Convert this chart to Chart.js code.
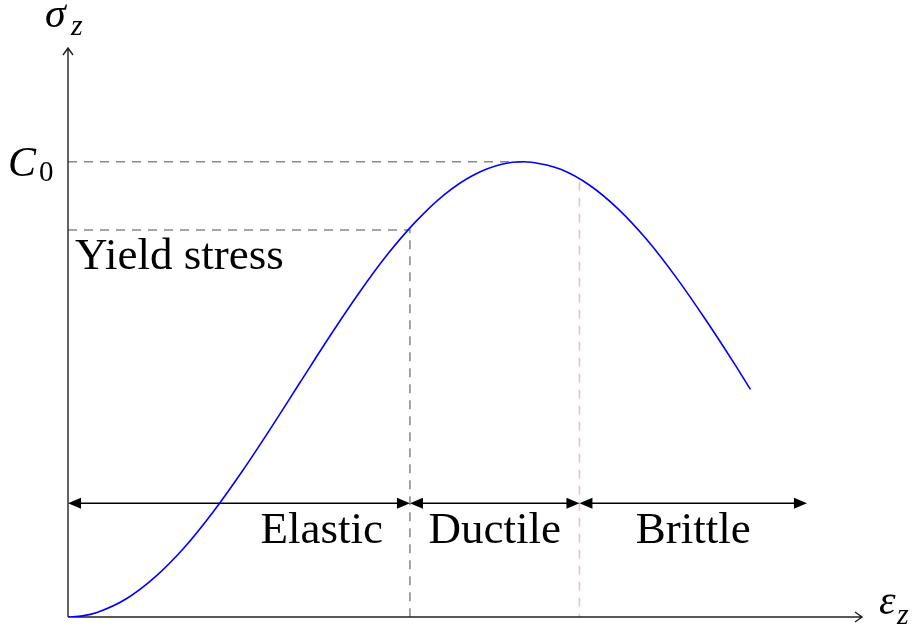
<!DOCTYPE html>
<html>
<head>
<meta charset="utf-8">
<script src="https://cdn.jsdelivr.net/npm/chart.js@4"></script>
<style>
  body { margin: 0; background: #fff; }
  canvas { display: block; }
</style>
</head>
<body>
<canvas id="mychart" width="918" height="632"></canvas>
<script>
// stress-strain curve, strain on x, stress on y
const strain = [0, 0.1, 0.2, 0.4, 0.6, 0.8, 1.0, 1.2, 1.4, 1.6, 1.8, 2.0, 2.2, 2.4, 2.6, 2.8, 3.0, 3.14, 3.2, 3.4, 3.6, 3.8, 4.0, 4.2, 4.4, 4.6, 4.71];
const stress = [0, 0.005, 0.02, 0.079, 0.175, 0.303, 0.46, 0.638, 0.83, 1.029, 1.227, 1.416, 1.589, 1.737, 1.857, 1.942, 1.99, 2.0, 1.998, 1.967, 1.897, 1.791, 1.654, 1.49, 1.307, 1.112, 1.0];

const peakStrain = 3.14, peakStress = 2.0;     // C0
const yieldStrain = 2.36, yieldStress = 1.70;
const breakStrain = 3.53, breakStress = 1.93;

const zoneEdges = [0, 2.36, 3.53, 5.1];
const zoneNames = ['Elastic', 'Ductile', 'Brittle'];
const zoneLevel = 0.5;

const xMax = 5.48, yMax = 2.5;

const serif = '"Liberation Serif", "DejaVu Serif", serif';

function arrowHead(ctx, x, y, dir) {
  // filled latex style head, dir = 1 points right, -1 points left
  ctx.beginPath();
  ctx.moveTo(x, y);
  ctx.lineTo(x - dir * 13, y - 5.5);
  ctx.lineTo(x - dir * 13, y + 5.5);
  ctx.closePath();
  ctx.fill();
}

const diagram = {
  id: 'diagram',
  beforeDatasetsDraw(chart) {
    const ctx = chart.ctx;
    const xs = chart.scales.x, ys = chart.scales.y;
    const px = v => xs.getPixelForValue(v);
    const py = v => ys.getPixelForValue(v);
    ctx.save();

    // guide lines
    ctx.lineWidth = 1.5;
    ctx.setLineDash([9, 7]);
    ctx.strokeStyle = '#888';
    ctx.beginPath();
    ctx.moveTo(px(0), py(peakStress));
    ctx.lineTo(px(peakStrain), py(peakStress));
    ctx.moveTo(px(0), py(yieldStress));
    ctx.lineTo(px(yieldStrain), py(yieldStress));
    ctx.lineTo(px(yieldStrain), py(0));
    ctx.stroke();

    ctx.strokeStyle = '#ffb8b8';
    ctx.beginPath();
    ctx.moveTo(px(breakStrain), py(breakStress) + 4);
    ctx.lineTo(px(breakStrain), py(0));
    ctx.stroke();
    ctx.setLineDash([]);

    // axes
    ctx.strokeStyle = '#222';
    ctx.lineWidth = 1.4;
    const ox = px(0), oy = py(0), tx = px(xMax), ty = py(yMax);
    ctx.beginPath();
    ctx.moveTo(ox, oy); ctx.lineTo(tx, oy);
    ctx.moveTo(ox, oy); ctx.lineTo(ox, ty);
    ctx.moveTo(tx - 7, oy - 5); ctx.lineTo(tx, oy); ctx.lineTo(tx - 7, oy + 5);
    ctx.moveTo(ox - 5, ty + 7); ctx.lineTo(ox, ty); ctx.lineTo(ox + 5, ty + 7);
    ctx.stroke();

    // zone arrows
    ctx.strokeStyle = '#000';
    ctx.fillStyle = '#000';
    ctx.lineWidth = 1.5;
    const ly = py(zoneLevel);
    for (let i = 0; i < zoneNames.length; i++) {
      const a = px(zoneEdges[i]), b = px(zoneEdges[i + 1]);
      ctx.beginPath();
      ctx.moveTo(a + 6, ly); ctx.lineTo(b - 6, ly);
      ctx.stroke();
      arrowHead(ctx, a, ly, -1);
      arrowHead(ctx, b, ly, 1);
    }

    // labels
    ctx.fillStyle = '#000';
    ctx.textBaseline = 'alphabetic';
    ctx.font = '45px ' + serif;
    ctx.textAlign = 'right';
    ctx.fillText(zoneNames[0], px(zoneEdges[1]) - 27, ly + 40);
    ctx.textAlign = 'center';
    ctx.fillText(zoneNames[1], (px(zoneEdges[1]) + px(zoneEdges[2])) / 2, ly + 40);
    ctx.fillText(zoneNames[2], (px(zoneEdges[2]) + px(zoneEdges[3])) / 2, ly + 40);
    ctx.textAlign = 'left';
    ctx.fillText('Yield stress', ox + 7, py(yieldStress) + 39);

    // C0
    ctx.font = 'italic 42px ' + serif;
    ctx.textAlign = 'left';
    ctx.fillText('C', 8, py(peakStress) + 14);
    ctx.font = '29px ' + serif;
    ctx.fillText('0', 39, py(peakStress) + 19);

    // sigma_z
    ctx.font = 'italic 42px ' + serif;
    ctx.fillText('σ', 45, 27);
    ctx.font = 'italic 30px ' + serif;
    ctx.fillText('z', 71, 35);

    // epsilon_z
    ctx.font = 'italic 42px ' + serif;
    ctx.fillText('ε', 879, oy - 3);
    ctx.font = 'italic 30px ' + serif;
    ctx.fillText('z', 897, oy + 7);

    ctx.restore();
  }
};

new Chart(document.getElementById('mychart'), {
  type: 'line',
  data: {
    datasets: [{
      data: strain.map((s, i) => ({ x: s, y: stress[i] })),
      borderColor: '#0000ff',
      borderWidth: 1.6,
      pointRadius: 0,
      cubicInterpolationMode: 'monotone',
      fill: false
    }]
  },
  options: {
    responsive: false,
    animation: false,
    layout: { padding: { left: 68, right: 56, top: 48, bottom: 15 } },
    plugins: { legend: { display: false }, tooltip: { enabled: false } },
    scales: {
      x: { type: 'linear', min: 0, max: xMax, display: false },
      y: { min: 0, max: yMax, display: false }
    }
  },
  plugins: [diagram]
});
</script>
</body>
</html>
